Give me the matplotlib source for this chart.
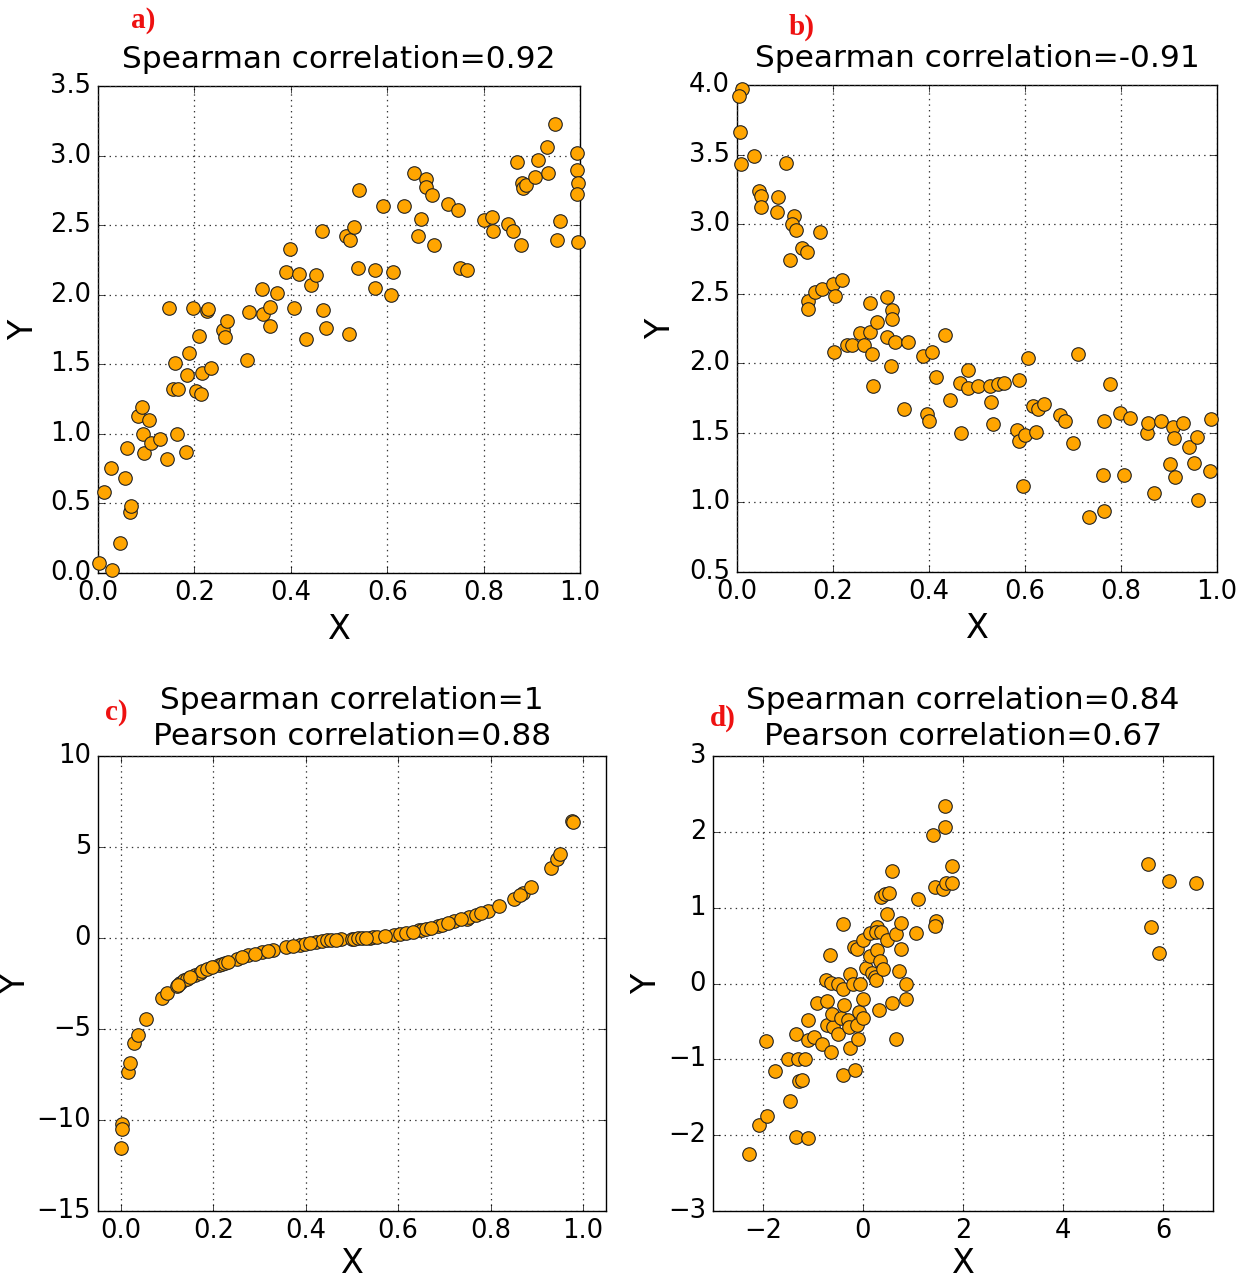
import matplotlib

matplotlib.use("Agg")
import matplotlib.pyplot as plt


# panel a) monotone rising
A_X = [0.003, 0.03, 0.012, 0.026, 0.045, 0.055, 0.066, 0.069, 0.061, 0.082,
       0.092, 0.106, 0.094, 0.096, 0.109, 0.128, 0.144, 0.164, 0.182, 0.148,
       0.159, 0.156, 0.167, 0.184, 0.189, 0.198, 0.203, 0.213, 0.209, 0.216,
       0.234, 0.227, 0.229, 0.259, 0.264, 0.268, 0.31, 0.313, 0.34, 0.342,
       0.357, 0.357, 0.371, 0.39, 0.399, 0.406, 0.417, 0.431, 0.442, 0.452,
       0.465, 0.466, 0.473, 0.515, 0.522, 0.532, 0.52, 0.541, 0.54, 0.574,
       0.574, 0.591, 0.608, 0.612, 0.635, 0.655, 0.681, 0.68, 0.693, 0.671,
       0.664, 0.697, 0.726, 0.747, 0.75, 0.766, 0.801, 0.817, 0.819, 0.851,
       0.861, 0.877, 0.87, 0.879, 0.882, 0.889, 0.906, 0.912, 0.931, 0.933,
       0.948, 0.958, 0.952, 0.993, 0.994, 0.995, 0.993, 0.995]
A_Y = [0.07, 0.02, 0.58, 0.755, 0.215, 0.68, 0.44, 0.48, 0.90, 1.13,
       1.19, 1.10, 1.00, 0.86, 0.935, 0.965, 0.82, 1.00, 0.87, 1.905,
       1.51, 1.32, 1.325, 1.42, 1.58, 1.905, 1.31, 1.29, 1.70, 1.44,
       1.47, 1.885, 1.90, 1.745, 1.695, 1.81, 1.53, 1.875, 2.04, 1.86,
       1.91, 1.775, 2.01, 2.165, 2.33, 1.905, 2.15, 1.68, 2.07, 2.14,
       2.46, 1.89, 1.76, 2.42, 2.39, 2.49, 1.715, 2.75, 2.19, 2.175,
       2.045, 2.64, 2.00, 2.165, 2.64, 2.875, 2.835, 2.775, 2.715, 2.545,
       2.42, 2.355, 2.655, 2.61, 2.195, 2.175, 2.535, 2.56, 2.46, 2.505,
       2.46, 2.36, 2.955, 2.805, 2.765, 2.785, 2.845, 2.97, 3.06, 2.875,
       3.225, 2.53, 2.395, 3.015, 2.895, 2.80, 2.725, 2.38]

# panel b) monotone falling
B_X = [0.01, 0.005, 0.006, 0.008, 0.036, 0.103, 0.045, 0.049, 0.049, 0.085,
       0.083, 0.118, 0.115, 0.123, 0.172, 0.135, 0.146, 0.111, 0.147, 0.147,
       0.163, 0.178, 0.201, 0.205, 0.218, 0.203, 0.229, 0.24, 0.257, 0.265,
       0.278, 0.278, 0.281, 0.283, 0.292, 0.312, 0.323, 0.322, 0.312, 0.33,
       0.321, 0.356, 0.347, 0.388, 0.406, 0.395, 0.401, 0.415, 0.433, 0.443,
       0.467, 0.465, 0.481, 0.482, 0.503, 0.528, 0.544, 0.556, 0.529, 0.533,
       0.588, 0.607, 0.583, 0.587, 0.599, 0.596, 0.617, 0.628, 0.64, 0.623,
       0.673, 0.683, 0.699, 0.711, 0.734, 0.764, 0.763, 0.765, 0.778, 0.798,
       0.807, 0.819, 0.854, 0.857, 0.868, 0.883, 0.903, 0.913, 0.909, 0.91,
       0.93, 0.941, 0.953, 0.958, 0.96, 0.988, 0.986]
B_Y = [3.97, 3.92, 3.66, 3.435, 3.49, 3.44, 3.24, 3.20, 3.12, 3.195,
       3.085, 3.06, 3.00, 2.96, 2.945, 2.83, 2.80, 2.74, 2.445, 2.39,
       2.515, 2.535, 2.57, 2.48, 2.60, 2.08, 2.13, 2.13, 2.22, 2.13,
       2.225, 2.43, 2.065, 1.84, 2.30, 2.475, 2.38, 2.315, 2.19, 2.15,
       1.98, 2.15, 1.675, 2.05, 2.08, 1.635, 1.585, 1.905, 2.20, 1.735,
       1.50, 1.855, 1.825, 1.955, 1.84, 1.84, 1.85, 1.86, 1.72, 1.565,
       1.88, 2.04, 1.52, 1.44, 1.485, 1.12, 1.695, 1.67, 1.705, 1.505,
       1.63, 1.585, 1.43, 2.07, 0.895, 0.935, 1.20, 1.585, 1.85, 1.645,
       1.195, 1.605, 1.50, 1.57, 1.065, 1.585, 1.275, 1.185, 1.54, 1.465,
       1.57, 1.40, 1.285, 1.47, 1.015, 1.60, 1.225]

# panel c) monotone but non-linear
C_X = [0.0, 0.002, 0.002, 0.015, 0.019, 0.029, 0.036, 0.053, 0.089, 0.1,
       0.12, 0.128, 0.136, 0.142, 0.159, 0.17, 0.175, 0.186, 0.211, 0.218,
       0.226, 0.252, 0.275, 0.306, 0.33, 0.358, 0.388, 0.399, 0.422, 0.435,
       0.445, 0.476, 0.5, 0.505, 0.514, 0.538, 0.546, 0.554, 0.591, 0.604,
       0.616, 0.644, 0.652, 0.66, 0.687, 0.694, 0.721, 0.748, 0.753, 0.768,
       0.795, 0.819, 0.851, 0.871, 0.888, 0.931, 0.943, 0.95, 0.977, 0.979,
       0.124, 0.149, 0.196, 0.232, 0.262, 0.29, 0.318, 0.372, 0.41, 0.455,
       0.466, 0.522, 0.53, 0.572, 0.632, 0.672, 0.708, 0.736, 0.78, 0.864]
C_Y = [-11.56, -10.24, -10.5, -7.39, -6.87, -5.77, -5.31, -4.45, -3.29, -3.03,
       -2.65, -2.48, -2.33, -2.24, -2.06, -1.92, -1.84, -1.69, -1.51, -1.45,
       -1.38, -1.16, -0.96, -0.77, -0.64, -0.50, -0.37, -0.31, -0.22, -0.165,
       -0.13, -0.07, -0.055, -0.04, -0.02, 0.02, 0.04, 0.07, 0.18, 0.23,
       0.29, 0.42, 0.46, 0.51, 0.64, 0.72, 0.92, 1.07, 1.16, 1.25,
       1.47, 1.76, 2.17, 2.48, 2.78, 3.86, 4.34, 4.60, 6.45, 6.40,
       -2.58, -2.15, -1.62, -1.30, -1.06, -0.88, -0.72, -0.44, -0.27, -0.10,
       -0.09, 0.0, 0.01, 0.13, 0.35, 0.56, 0.80, 1.02, 1.35, 2.35]

# panel d) outliers
D_X = [-2.28, -2.09, -1.93, -1.94, -1.76, -1.51, -1.31, -1.16, -1.46, -1.29,
       -1.22, -1.35, -1.10, -1.35, -1.10, -1.10, -0.98, -0.83, -0.64, -0.92,
       -0.73, -0.73, -0.61, -0.63, -0.50, -0.44, -0.38, -0.27, -0.10, -0.41,
       -0.17, -0.30, -0.28, -0.13, -0.08, 0.0, -0.01, -0.74, -0.64, -0.50,
       -0.40, -0.27, -0.21, -0.07, -0.66, -0.40, -0.18, -0.13, 0.0, 0.05,
       0.13, 0.17, 0.23, 0.25, 0.27, 0.33, 0.40, 0.31, 0.13, 0.27,
       0.25, 0.36, 0.48, 0.66, 0.75, 0.75, 0.71, 0.85, 0.85, 0.58,
       0.65, 0.48, 0.36, 0.43, 0.52, 0.58, 1.05, 1.10, 1.43, 1.46,
       1.43, 1.59, 1.65, 1.78, 1.77, 1.39, 1.64, 1.63, 5.70, 5.76,
       5.92, 6.11, 6.66]
D_Y = [-2.25, -1.87, -1.745, -0.76, -1.15, -0.99, -0.99, -1.0, -1.55, -1.28,
       -1.27, -2.03, -2.04, -0.66, -0.48, -0.74, -0.70, -0.80, -0.90, -0.26,
       -0.23, -0.55, -0.57, -0.40, -0.66, -0.45, -0.29, -0.85, -0.73, -1.21,
       -1.14, -0.48, -0.57, -0.55, -0.37, -0.46, -0.21, 0.04, 0.01, 0.0,
       -0.07, 0.12, 0.0, 0.0, 0.37, 0.78, 0.48, 0.45, 0.57, 0.21,
       0.36, 0.14, 0.09, 0.04, 0.44, 0.30, 0.19, -0.35, 0.66, 0.75,
       0.68, 0.68, 0.57, 0.65, 0.80, 0.46, 0.17, -0.01, -0.20, -0.26,
       -0.73, 0.92, 1.14, 1.18, 1.20, 1.49, 0.66, 1.12, 1.27, 0.83,
       0.76, 1.25, 1.32, 1.33, 1.55, 1.96, 2.06, 2.34, 1.57, 0.74,
       0.40, 1.35, 1.32]

PANELS = [
    # rect = axes box in pixels (left, top, right, bottom); lpos = panel letter centre
    dict(x=A_X, y=A_Y, title="Spearman correlation=0.92", letter="a)",
         xlim=(0, 1), ylim=(0, 3.5), yticks=[0, 0.5, 1, 1.5, 2, 2.5, 3, 3.5],
         xticks=[0, 0.2, 0.4, 0.6, 0.8, 1.0],
         rect=(98, 86, 580, 573), lpos=(143, 20), ylx=-0.12, xlpad=5, tpad=13),
    dict(x=B_X, y=B_Y, title="Spearman correlation=-0.91", letter="b)",
         xlim=(0, 1), ylim=(0.5, 4.0), yticks=[0.5, 1, 1.5, 2, 2.5, 3, 3.5, 4],
         xticks=[0, 0.2, 0.4, 0.6, 0.8, 1.0],
         rect=(737, 85, 1217, 572), lpos=(802, 27), ylx=-0.125, xlpad=5, tpad=13),
    dict(x=C_X, y=C_Y, title="Spearman correlation=1\nPearson correlation=0.88", letter="c)",
         xlim=(-0.05, 1.05), ylim=(-15, 10), yticks=[-15, -10, -5, 0, 5, 10],
         xticks=[0, 0.2, 0.4, 0.6, 0.8, 1.0],
         rect=(98, 756, 606, 1211), lpos=(116, 712), ylx=-0.13, xlpad=2, tpad=8),
    dict(x=D_X, y=D_Y, title="Spearman correlation=0.84\nPearson correlation=0.67", letter="d)",
         xlim=(-3, 7), ylim=(-3, 3), yticks=[-3, -2, -1, 0, 1, 2, 3],
         xticks=[-2, 0, 2, 4, 6],
         rect=(713, 756, 1213, 1211), lpos=(723, 718), ylx=-0.10, xlpad=2, tpad=8),
]

W, H = 1256, 1278


def main() -> None:
    plt.style.use("classic")
    plt.rcParams["font.family"] = ["DejaVu Sans"]
    fig = plt.figure(figsize=(W / 100, H / 100), dpi=100, facecolor="white")

    for p in PANELS:
        l, t, r, b = p["rect"]
        ax = fig.add_axes([l / W, 1 - b / H, (r - l) / W, (b - t) / H])
        ax.scatter(p["x"], p["y"], s=95, c="#FFA500", edgecolors="#222222",
                   linewidths=0.8, zorder=3, clip_on=False)
        ax.set_xlim(*p["xlim"])
        ax.set_ylim(*p["ylim"])
        ax.set_xticks(p["xticks"])
        ax.set_yticks(p["yticks"])
        ax.grid(True, linestyle=":", color="#333333", linewidth=0.9)
        ax.tick_params(labelsize=18.5, direction="in", length=5, top=True, right=True, pad=5)
        ax.set_xlabel("X", fontsize=24, labelpad=p["xlpad"])
        ax.set_ylabel("Y", fontsize=24)
        ax.yaxis.set_label_coords(p["ylx"], 0.5)
        ax.set_title(p["title"], fontsize=22.5, pad=p["tpad"], linespacing=1.32)
        fig.text(p["lpos"][0] / W, 1 - p["lpos"][1] / H, p["letter"],
                 color="#ee1111", fontsize=21, fontweight="bold",
                 family="Liberation Serif", ha="center", va="center")

    fig.savefig("out.png", dpi=100, facecolor="white")
    plt.close(fig)


if __name__ == "__main__":
    main()
